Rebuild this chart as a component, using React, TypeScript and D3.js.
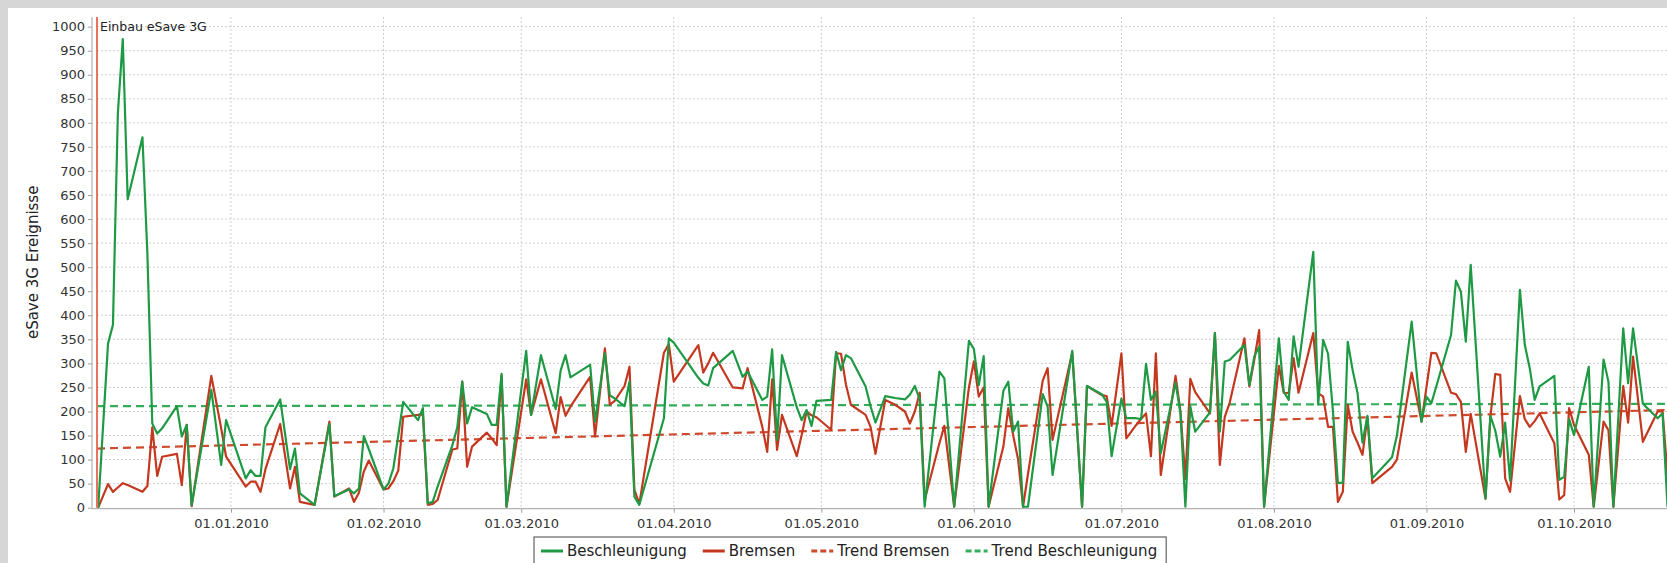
import { useEffect, useRef } from 'react';
import * as d3 from 'd3';

// day offsets from 01.01.2010
const days = [
  -27, -25, -24, -23, -22, -21, -18, -17, -16, -15, -14, -11, -10, -9, -8, -4, -2, -1,
  3, 4, 5, 6, 7, 10, 12, 13, 14, 17, 20, 21, 24, 25, 26, 27, 28, 31, 32, 33, 34, 35,
  38, 39, 40, 41, 42, 45, 46, 47, 48, 49, 52, 53, 54, 55, 56, 60, 61, 63, 66, 67, 68, 69,
  73, 74, 76, 77, 78, 80, 81, 82, 83, 88, 89, 90, 95, 96, 97, 98, 102, 104, 105, 108,
  109, 110, 111, 112, 115, 116, 117, 118, 119, 122, 123, 124, 125, 126, 129, 130, 131,
  133, 135, 137, 138, 139, 140, 141, 144, 145, 147, 150, 151, 152, 153, 154, 157, 158,
  159, 160, 161, 162, 165, 166, 167, 171, 173, 174, 177, 178, 179, 181, 182, 184, 185,
  186, 187, 188, 189, 192, 193, 194, 195, 196, 199, 200, 201, 202, 203, 206, 207, 208,
  209, 210, 213, 214, 215, 216, 217, 220, 221, 222, 223, 224, 225, 226, 227, 228, 229,
  230, 231, 232, 236, 237, 240, 242, 243, 244, 245, 248, 249, 250, 251, 252, 255, 256,
  257, 258, 259, 260, 262, 263, 264, 265, 266, 269, 270, 271, 272, 273, 276, 277, 279,
  280, 281, 283, 284, 285, 287, 290, 291, 292,
];

const beschleunigung = [
  0, 341, 380, 820, 974, 641, 770, 529, 175, 154, 165, 211, 148, 172, 5, 245, 89, 182,
  61, 78, 66, 66, 167, 225, 80, 123, 30, 6, 174, 24, 38, 30, 40, 149, 122, 38, 50, 82, 150, 220,
  182, 207, 9, 12, 44, 130, 167, 262, 175, 209, 195, 172, 172, 278, 2, 326, 193, 317, 205, 285, 317, 271,
  297, 179, 321, 234, 227, 211, 262, 23, 6, 186, 352, 343, 270, 258, 254, 290, 326, 272, 283, 224,
  231, 329, 141, 317, 209, 182, 203, 170, 222, 224, 324, 286, 317, 311, 252, 211, 177,
  232, 228, 225, 235, 253, 225, 2, 283, 269, 2, 347, 330, 255, 315, 2, 243, 262,
  158, 179, 2, 2, 236, 210, 68, 326, 2, 253, 236, 220, 107, 227, 186, 186, 184,
  299, 224, 241, 113, 260, 196, 2, 211, 158, 198, 363, 158, 304, 307, 338, 255, 314,
  335, 2, 352, 241, 224, 356, 293, 532, 214, 349, 320, 200, 51, 52, 345, 286, 238,
  135, 191, 61, 105, 150, 387, 179, 231, 217, 252, 359, 472, 449, 345, 505, 19, 191,
  160, 106, 177, 56, 453, 338, 290, 224, 252, 274, 58, 64, 184, 151, 293, 2, 308,
  262, 2, 373, 259, 373, 216, 186, 196, 2,
];

const bremsen = [
  0, 49, 33, 42, 51, 47, 33, 45, 167, 66, 106, 112, 47, 172, 3, 274, 165, 106,
  44, 54, 54, 33, 80, 174, 40, 85, 12, 6, 179, 23, 40, 12, 31, 75, 98, 38, 40, 55, 77, 189,
  193, 195, 6, 8, 16, 121, 123, 262, 85, 127, 156, 144, 130, 274, 2, 267, 193, 267, 155, 230, 191, 210,
  272, 148, 331, 214, 222, 253, 293, 37, 8, 322, 340, 262, 338, 281, 300, 322, 250, 248, 290, 168,
  116, 267, 120, 193, 107, 151, 200, 192, 188, 162, 321, 320, 256, 214, 193, 168, 112,
  224, 214, 200, 175, 200, 239, 16, 134, 170, 2, 250, 304, 231, 250, 2, 127, 207,
  150, 100, 2, 70, 264, 290, 141, 322, 2, 253, 234, 232, 170, 321, 144, 172, 185,
  196, 107, 321, 68, 274, 200, 60, 268, 240, 196, 363, 89, 189, 218, 352, 252, 307,
  369, 2, 295, 239, 238, 311, 239, 363, 238, 231, 168, 168, 12, 33, 214, 158, 135,
  110, 189, 51, 85, 100, 281, 179, 250, 322, 321, 239, 236, 220, 116, 195, 19, 190,
  278, 276, 61, 33, 232, 184, 168, 180, 196, 134, 17, 26, 207, 172, 110, 2, 179,
  161, 2, 253, 177, 314, 137, 200, 200, 68,
];

// trend lines: value at the first and last day of the plot
const trendDays = [-27.24, 291.9];
const trendBremsen = [123, 203];
const trendBeschleunigung = [211, 216];

const yTicks = [0, 50, 100, 150, 200, 250, 300, 350, 400, 450, 500, 550, 600, 650, 700, 750, 800, 850, 900, 950, 1000];
const monthTicks = ['2010-01-01', '2010-02-01', '2010-03-01', '2010-04-01', '2010-05-01', '2010-06-01', '2010-07-01', '2010-08-01', '2010-09-01', '2010-10-01'];

const GREEN = '#1e9a45';
const RED = '#c4381f';
const GREEN_TREND = '#33ad5a';
const RED_TREND = '#cf4a2c';
const FONT = '"DejaVu Sans", sans-serif';

const dayToDate = (d: number) => new Date(Date.UTC(2010, 0, 1) + d * 864e5);

export default function App() {
  const svgRef = useRef<SVGSVGElement>(null);

  useEffect(() => {
    if (!svgRef.current) return;
    const svg = d3.select(svgRef.current);
    svg.selectAll('*').remove();

    const W = 1667;
    const H = 563;
    const left = 97;
    const right = 1667;
    const top = 17;
    const bottom = 507.7;

    // panel background
    svg.append('rect').attr('width', W).attr('height', H).attr('fill', '#d6d6d6');
    svg.append('rect').attr('x', 8).attr('y', 8).attr('width', W).attr('height', H).attr('fill', '#ffffff');

    const x = d3.scaleUtc().domain([dayToDate(trendDays[0]), dayToDate(trendDays[1])]).range([left, right]);
    const y = d3.scaleLinear().domain([0, 1020]).range([bottom, top]);

    svg.append('defs').append('clipPath').attr('id', 'plotclip')
      .append('rect').attr('x', left).attr('y', top - 2).attr('width', right - left).attr('height', bottom - top + 4);

    // grid
    const grid = svg.append('g');
    grid.selectAll('line.h').data(yTicks.slice(1)).enter().append('line')
      .attr('x1', left).attr('x2', right)
      .attr('y1', d => y(d)).attr('y2', d => y(d))
      .attr('stroke', '#cfcfcf').attr('stroke-dasharray', '2,2');
    const months = monthTicks.map(s => new Date(s + 'T00:00:00Z'));
    grid.selectAll('line.v').data(months).enter().append('line')
      .attr('x1', d => x(d)).attr('x2', d => x(d))
      .attr('y1', top).attr('y2', bottom)
      .attr('stroke', '#cfcfcf').attr('stroke-dasharray', '2,2');

    // y axis
    const yAxis = svg.append('g').attr('transform', 'translate(92,0)')
      .call(d3.axisLeft(y).tickValues(yTicks).tickSize(4).tickPadding(3).tickFormat(d3.format('d')));
    yAxis.select('.domain').attr('stroke', '#a0a0a0').attr('d', `M0,${top}V${bottom}`);
    yAxis.selectAll('.tick line').attr('stroke', '#a0a0a0');
    yAxis.selectAll('text').attr('font-family', FONT).attr('font-size', 13).attr('fill', '#333');

    // x axis
    const xAxis = svg.append('g').attr('transform', `translate(0,${bottom + 1})`)
      .call(d3.axisBottom(x).tickValues(months).tickSize(4).tickPadding(6).tickFormat(d => d3.utcFormat('%d.%m.%Y')(d as Date)));
    xAxis.select('.domain').attr('stroke', '#a0a0a0').attr('d', `M${left - 5},0H${right}`);
    xAxis.selectAll('.tick line').attr('stroke', '#a0a0a0');
    xAxis.selectAll('text').attr('font-family', FONT).attr('font-size', 13).attr('fill', '#333');

    // y label
    svg.append('text')
      .attr('transform', `translate(38,${(top + bottom) / 2}) rotate(-90)`)
      .attr('text-anchor', 'middle')
      .attr('font-family', FONT).attr('font-size', 15).attr('fill', '#222')
      .text('eSave 3G Ereignisse');

    const plot = svg.append('g').attr('clip-path', 'url(#plotclip)');

    // trends
    const trendLine = d3.line<number>().x((_, i) => x(dayToDate(trendDays[i]))).y(v => y(v));
    plot.append('path').attr('d', trendLine(trendBremsen)).attr('fill', 'none')
      .attr('stroke', RED_TREND).attr('stroke-width', 2.2).attr('stroke-dasharray', '8,5');
    plot.append('path').attr('d', trendLine(trendBeschleunigung)).attr('fill', 'none')
      .attr('stroke', GREEN_TREND).attr('stroke-width', 2.2).attr('stroke-dasharray', '8,5');

    // series
    const line = d3.line<number>().x((_, i) => x(dayToDate(days[i]))).y(v => y(v));
    plot.append('path').attr('d', line(bremsen)).attr('fill', 'none')
      .attr('stroke', RED).attr('stroke-width', 2.2).attr('stroke-linejoin', 'round');
    plot.append('path').attr('d', line(beschleunigung)).attr('fill', 'none')
      .attr('stroke', GREEN).attr('stroke-width', 2.2).attr('stroke-linejoin', 'round');

    // Einbau marker
    svg.append('line').attr('x1', left).attr('x2', left).attr('y1', top).attr('y2', bottom)
      .attr('stroke', '#e8735f').attr('stroke-width', 2);
    svg.append('text').attr('x', left + 3).attr('y', 31)
      .attr('font-family', FONT).attr('font-size', 12.5).attr('fill', '#222')
      .text('Einbau eSave 3G');

    // legend
    const legendItems = [
      { label: 'Beschleunigung', color: GREEN, dash: null },
      { label: 'Bremsen', color: RED, dash: null },
      { label: 'Trend Bremsen', color: RED_TREND, dash: '6,3' },
      { label: 'Trend Beschleunigung', color: GREEN_TREND, dash: '6,3' },
    ];
    const lg = svg.append('g');
    const box = lg.append('rect').attr('x', 534).attr('y', 537).attr('height', 30)
      .attr('fill', '#fff').attr('stroke', '#444').attr('stroke-width', 1);
    let cx = 541;
    legendItems.forEach(it => {
      lg.append('line').attr('x1', cx).attr('x2', cx + 22).attr('y1', 551).attr('y2', 551)
        .attr('stroke', it.color).attr('stroke-width', 3)
        .attr('stroke-dasharray', it.dash ?? null);
      const t = lg.append('text').attr('x', cx + 26).attr('y', 556)
        .attr('font-family', FONT).attr('font-size', 15).attr('fill', '#222').text(it.label);
      const w = (t.node() as SVGTextElement).getComputedTextLength();
      cx = cx + 26 + w + 16;
    });
    box.attr('width', cx - 534 - 7);
  }, []);

  return (
    <>
      <style>{'body{margin:0}'}</style>
      <svg ref={svgRef} width={1667} height={563} style={{ display: 'block' }} />
    </>
  );
}
